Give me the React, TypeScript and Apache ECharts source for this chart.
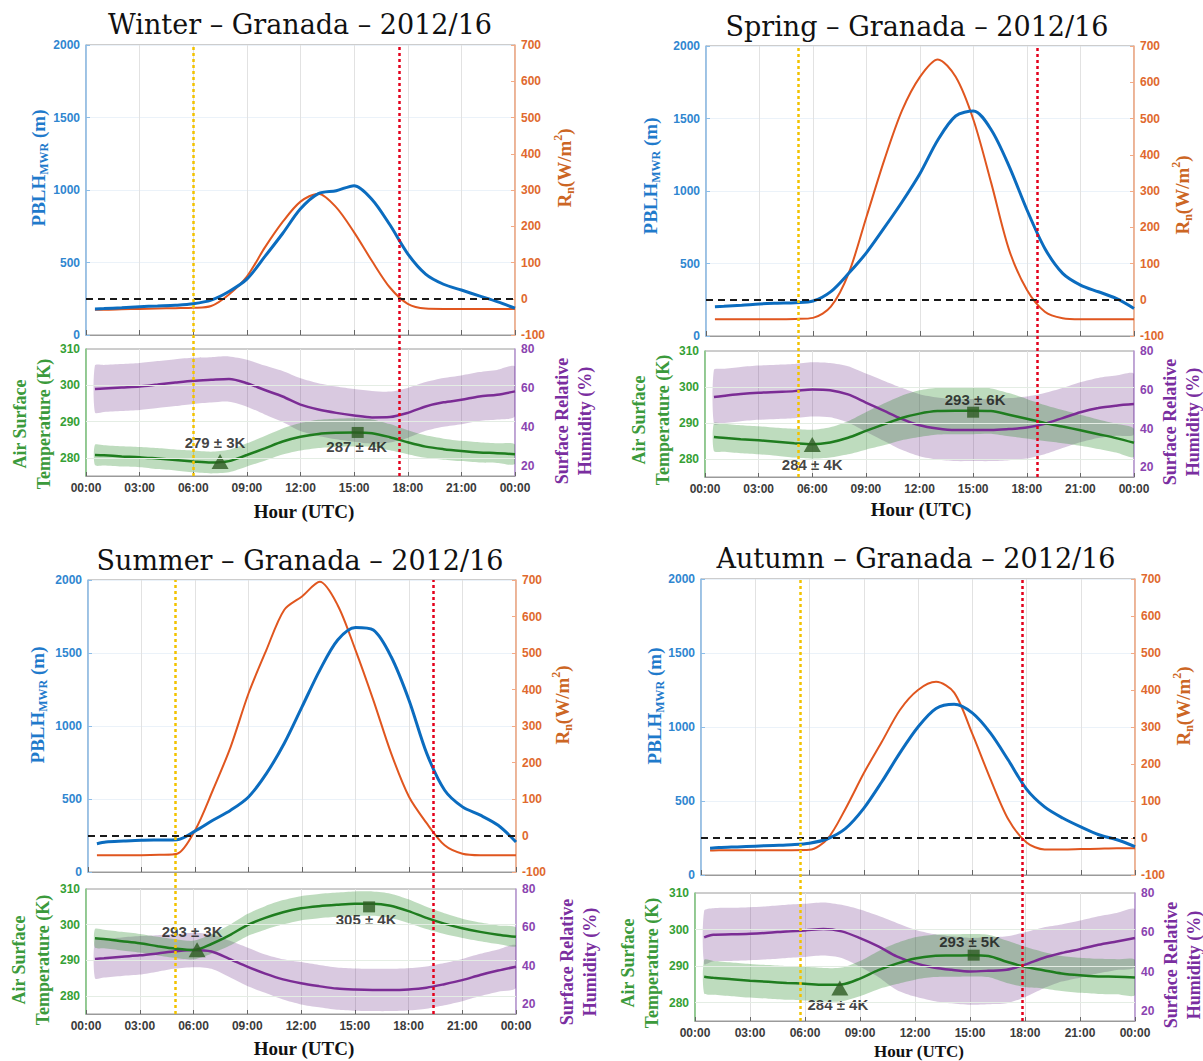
import React, { useEffect, useRef } from "react";
import * as echarts from "echarts";

// Hour of day (UTC) of every averaged sample
const hours = [0.5, 1, 2, 3, 4, 5, 6, 7, 8, 9, 10, 11, 12, 13, 14, 15, 16, 17, 18, 19, 20, 21, 22, 23, 24];

const seasons = ["Winter", "Spring", "Summer", "Autumn"];
const site = "Granada";
const period = "2012/16";

// Winter
const winterPblh = [180, 182, 188, 195, 200, 205, 215, 240, 300, 385, 540, 700, 870, 975, 995, 1030, 935, 760, 560, 420, 350, 310, 270, 230, 185];
const winterRn = [-30, -30, -29, -28, -27, -26, -25, -20, 12, 61, 141, 212, 268, 290, 252, 183, 104, 31, -14, -27, -28, -28, -28, -28, -28];
const winterTemp = [280.8, 280.7, 280.4, 280.2, 279.8, 279.4, 279.0, 278.7, 279.1, 280.8, 282.6, 284.5, 285.8, 286.6, 286.9, 287.0, 286.8, 285.7, 284.3, 283.1, 282.4, 281.9, 281.5, 281.3, 281.0];
const winterTempSd = [2.8, 2.8, 2.8, 2.8, 2.9, 2.9, 3.0, 3.0, 3.1, 3.2, 3.4, 3.6, 3.8, 3.9, 3.9, 3.9, 3.8, 3.6, 3.3, 3.1, 2.9, 2.8, 2.8, 2.7, 2.7];
const winterRh = [59.5, 59.8, 60.3, 60.8, 61.8, 62.8, 63.7, 64.2, 64.6, 62.5, 59.0, 55.7, 51.5, 49.0, 47.3, 46.0, 45.0, 45.2, 47.3, 50.6, 52.7, 54.0, 55.7, 56.6, 58.3];
const winterRhSd = [12, 12, 12, 12, 12, 12, 11.8, 11.6, 11.6, 12, 12.5, 13, 13.5, 13.5, 13.5, 13.5, 13.5, 13, 12.8, 12.5, 12.5, 12.5, 12.5, 12.7, 12.7];

// Spring
const springPblh = [202, 205, 212, 221, 226, 230, 241, 306, 432, 575, 747, 926, 1121, 1352, 1517, 1552, 1421, 1170, 869, 604, 432, 351, 305, 259, 190];
const springRn = [-54, -54, -54, -54, -54, -53, -50, -19, 73, 229, 386, 523, 615, 663, 615, 496, 321, 137, 27, -33, -51, -54, -54, -54, -54];
const springTemp = [286.1, 285.9, 285.5, 285.2, 284.8, 284.4, 284.1, 284.6, 285.9, 287.8, 289.6, 291.4, 292.6, 293.3, 293.4, 293.4, 293.3, 292.3, 291.2, 290.0, 289.0, 288.0, 286.9, 285.8, 284.5];
const springTempSd = [3.9, 3.9, 3.9, 3.9, 3.9, 4.0, 4.0, 4.2, 4.6, 5.2, 5.8, 6.2, 6.5, 6.5, 6.5, 6.5, 6.3, 6.0, 5.5, 5.0, 4.6, 4.3, 4.1, 4.0, 3.9];
const springRh = [56.3, 56.8, 57.8, 58.5, 58.9, 59.3, 60.2, 59.8, 57.6, 53.4, 49.2, 45.0, 41.7, 40.0, 39.2, 39.2, 39.2, 39.7, 40.5, 42.5, 45.4, 48.4, 50.6, 51.8, 52.6];
const springRhSd = [14, 14, 14, 14, 14, 14, 14, 14, 14.5, 15, 15.5, 16, 16, 16, 16, 16, 16, 16, 16, 15.8, 15.5, 15.5, 15.5, 15.5, 15.5];

// Summer
const summerPblh = [194, 206, 212, 217, 219, 221, 280, 354, 423, 514, 674, 880, 1131, 1383, 1589, 1675, 1657, 1474, 1177, 811, 560, 446, 389, 320, 206];
const summerRn = [-54, -54, -54, -54, -53, -50, 14, 124, 243, 389, 508, 618, 655, 695, 631, 508, 371, 225, 106, 33, -27, -50, -54, -54, -54];
const summerTemp = [296.2, 296.0, 295.4, 294.8, 294.0, 293.3, 292.9, 294.6, 297.0, 299.9, 301.9, 303.5, 304.6, 305.2, 305.6, 305.9, 305.9, 305.3, 303.8, 301.9, 300.3, 299.0, 298.0, 297.2, 296.6];
const summerTempSd = [2.6, 2.6, 2.6, 2.6, 2.6, 2.6, 2.6, 2.7, 2.9, 3.1, 3.3, 3.4, 3.4, 3.4, 3.4, 3.4, 3.4, 3.4, 3.3, 3.1, 2.9, 2.7, 2.6, 2.6, 2.6];
const summerRh = [43.6, 44.0, 44.8, 45.5, 46.5, 47.6, 48.3, 47.5, 43.7, 39.6, 36.0, 33.0, 31.0, 29.5, 28.2, 27.7, 27.5, 27.5, 27.8, 28.7, 30.5, 32.6, 35.3, 37.6, 39.6];
const summerRhSd = [10, 10, 10, 10, 9.5, 9, 9, 9, 9.5, 10, 10, 10.5, 11, 11, 11, 11, 11, 11, 11, 11, 11, 11, 11, 11, 11];

// Autumn
const autumnPblh = [180, 185, 190, 195, 200, 205, 215, 245, 315, 450, 630, 825, 1000, 1125, 1153, 1095, 960, 775, 580, 460, 385, 325, 272, 238, 192];
const autumnRn = [-34, -33, -33, -33, -33, -33, -32, -2, 80, 175, 260, 346, 400, 422, 393, 282, 160, 50, -12, -31, -31, -30, -29, -28, -28];
const autumnTemp = [287.1, 286.8, 286.4, 286.0, 285.7, 285.4, 285.2, 284.9, 285.0, 286.6, 288.9, 290.7, 292.1, 292.8, 292.9, 293.0, 292.8, 291.2, 289.8, 288.9, 288.0, 287.5, 287.2, 287.1, 286.9];
const autumnTempSd = [4.6, 4.6, 4.6, 4.6, 4.6, 4.6, 4.6, 4.6, 4.6, 4.8, 5.2, 5.6, 5.8, 5.8, 5.8, 5.8, 5.8, 5.8, 5.5, 5.0, 4.8, 4.8, 4.8, 4.8, 4.8];
const autumnRh = [57.5, 58.8, 59.0, 59.3, 59.8, 60.5, 61.0, 61.7, 60.5, 57.1, 52.9, 47.8, 44.4, 42.2, 41.0, 40.2, 40.5, 41.0, 43.6, 47.0, 49.5, 51.5, 53.7, 55.4, 57.1];
const autumnRhSd = [13.5, 13.5, 13.5, 13.5, 13.5, 13.5, 13.5, 13.5, 13.5, 14.5, 15.5, 17, 17, 17, 17, 17, 17, 17, 16.5, 15.5, 14.5, 14.5, 14.5, 14.5, 14.5];

// Sunrise / sunset hours (UTC)
const sunrise = [6.0, 5.2, 4.9, 5.5];
const sunset = [17.5, 18.6, 19.35, 17.75];

// Daily minimum and maximum air temperature (K) with their standard deviation
const minHour = [7.5, 6.0, 6.2, 7.9];
const minTemp = [279, 284, 293, 284];
const minSd = [3, 4, 3, 4];
const maxHour = [15.2, 15.0, 15.8, 15.2];
const maxTemp = [287, 293, 305, 293];
const maxSd = [4, 6, 4, 5];

const seasonData = [
  { pblh: winterPblh, rn: winterRn, temp: winterTemp, tempSd: winterTempSd, rh: winterRh, rhSd: winterRhSd },
  { pblh: springPblh, rn: springRn, temp: springTemp, tempSd: springTempSd, rh: springRh, rhSd: springRhSd },
  { pblh: summerPblh, rn: summerRn, temp: summerTemp, tempSd: summerTempSd, rh: summerRh, rhSd: summerRhSd },
  { pblh: autumnPblh, rn: autumnRn, temp: autumnTemp, tempSd: autumnTempSd, rh: autumnRh, rhSd: autumnRhSd },
];

type Box = { l: number; t: number; w: number; h: number };
type Layout = {
  top: Box;
  bot: Box;
  title: [number, number];
  pblh: [number, number];
  rn: [number, number];
  tempT: [number, number];
  rhT: [number, number];
  hour: [number, number];
  hourSize: number;
  minOff: [number, number];
  maxOff: [number, number];
};

const layouts: Layout[] = [
  { top: { l: 86, t: 45, w: 429, h: 290 }, bot: { l: 86, t: 349, w: 429, h: 127 }, title: [300, 24], pblh: [38, 168], rn: [564, 168], tempT: [32, 424], rhT: [573, 421], hour: [304, 511], hourSize: 19, minOff: [-5, -19], maxOff: [-1, 14] },
  { top: { l: 706, t: 46, w: 428, h: 290 }, bot: { l: 705, t: 351, w: 429, h: 126 }, title: [917, 26], pblh: [650, 176], rn: [1182, 195], tempT: [651, 420], rhT: [1181, 422], hour: [921, 509], hourSize: 19, minOff: [0, 20], maxOff: [2, -13] },
  { top: { l: 88, t: 580, w: 428, h: 292 }, bot: { l: 86, t: 889, w: 430, h: 125 }, title: [300, 560], pblh: [37, 705], rn: [562, 705], tempT: [31, 960], rhT: [578, 962], hour: [304, 1048], hourSize: 19, minOff: [-5, -18], maxOff: [-3, 13] },
  { top: { l: 701, t: 579, w: 434, h: 296 }, bot: { l: 695, t: 893, w: 440, h: 128 }, title: [916, 558], pblh: [654, 706], rn: [1183, 706], tempT: [640, 963], rhT: [1182, 965], hour: [919, 1051], hourSize: 17, minOff: [-2, 16], maxOff: [-4, -14] },
];

const C = {
  pblh: "#0b6cbf",
  pblhAxis: "#8cbde8",
  pblhText: "#2f86d0",
  pblhTitle: "#1f7acb",
  rn: "#e0561f",
  rnAxis: "#f3aa85",
  rnText: "#e0692e",
  rnTitle: "#cc6624",
  temp: "#1f7d1f",
  tempBand: "rgba(20,130,20,0.28)",
  tempAxis: "#7cc47c",
  tempText: "#35a035",
  rh: "#7b2c95",
  rhBand: "rgba(90,20,120,0.23)",
  rhAxis: "#b996d4",
  rhText: "#8a44b0",
  marker: "#2d5b22",
  frame: "#9a9a9a",
  grid: "#e2e2e2",
};

const SANS = "Liberation Sans";
const SERIF = "Liberation Serif";

const hourLabel = (v: number) => {
  const h = v % 24;
  return (h < 10 ? "0" : "") + h + ":00";
};

function buildOption() {
  const grids: any[] = [];
  const xAxes: any[] = [];
  const yAxes: any[] = [];
  const series: any[] = [];
  const graphics: any[] = [];

  const pairs = (vals: number[]) => hours.map((h, k) => [h, vals[k]]);

  const line = (xi: number, yi: number, vals: number[], color: string, width: number, extra: any = {}) => ({
    type: "line",
    xAxisIndex: xi,
    yAxisIndex: yi,
    data: pairs(vals),
    symbol: "none",
    showSymbol: false,
    smooth: 0.3,
    silent: true,
    lineStyle: { color, width },
    ...extra,
  });

  // Shaded mean ± sd envelope, drawn as one polygon through the axis scales
  const band = (xi: number, yi: number, mean: number[], sd: number[], color: string) => ({
    type: "custom",
    xAxisIndex: xi,
    yAxisIndex: yi,
    silent: true,
    clip: true,
    data: hours.map((h, k) => [h, mean[k] - sd[k], mean[k] + sd[k]]),
    encode: { x: 0, y: [1, 2] },
    renderItem: (params: any, api: any) => {
      if (params.dataIndex !== 0) return null;
      const upper = hours.map((h, k) => api.coord([h, mean[k] + sd[k]]));
      const lower = hours.map((h, k) => api.coord([h, mean[k] - sd[k]])).reverse();
      return {
        type: "polygon",
        shape: { points: upper.concat(lower), smooth: 0.25 },
        style: { fill: color, stroke: "none" },
      };
    },
  });

  const tickLabel = (color: string) => ({
    color, fontFamily: SANS, fontWeight: "bold", fontSize: 12, margin: 6,
    formatter: (v: number) => String(v),
  });

  seasons.forEach((season, i) => {
    const L = layouts[i];
    const d = seasonData[i];

    const gTop = grids.length;
    grids.push({ left: L.top.l, top: L.top.t, width: L.top.w, height: L.top.h, show: true, borderColor: C.frame, borderWidth: 1, containLabel: false, outerBoundsMode: "none" });
    const gBot = grids.length;
    grids.push({ left: L.bot.l, top: L.bot.t, width: L.bot.w, height: L.bot.h, show: true, borderColor: C.frame, borderWidth: 1, containLabel: false, outerBoundsMode: "none" });
    const gOv = grids.length;
    grids.push({ left: L.top.l, top: L.top.t, width: L.top.w, height: L.bot.t + L.bot.h - L.top.t, show: false, containLabel: false, outerBoundsMode: "none" });

    const xTop = xAxes.length;
    xAxes.push({
      gridIndex: gTop, type: "value", min: 0, max: 24, interval: 3,
      axisLine: { show: true, lineStyle: { color: C.frame, width: 1 } },
      axisTick: { show: true, inside: true, length: 5, lineStyle: { color: "#666" } },
      axisLabel: { show: false },
      splitLine: { show: true, lineStyle: { color: C.grid, width: 1 } },
    });
    const xBot = xAxes.length;
    xAxes.push({
      gridIndex: gBot, type: "value", min: 0, max: 24, interval: 3,
      axisLine: { show: true, lineStyle: { color: C.frame, width: 1 } },
      axisTick: { show: true, inside: true, length: 4, lineStyle: { color: "#666" } },
      axisLabel: { show: true, formatter: hourLabel, color: "#3b3b3b", fontFamily: SANS, fontWeight: "bold", fontSize: 12, margin: 6 },
      splitLine: { show: true, lineStyle: { color: C.grid, width: 1 } },
    });
    const xOv = xAxes.length;
    xAxes.push({ gridIndex: gOv, type: "value", min: 0, max: 24, show: false });

    const yP = yAxes.length;
    yAxes.push({
      gridIndex: gTop, type: "value", position: "left", min: 0, max: 2000, interval: 500,
      axisLine: { show: true, lineStyle: { color: C.pblhAxis, width: 1.5 } },
      axisTick: { show: true, inside: true, length: 4, lineStyle: { color: C.pblhAxis } },
      axisLabel: tickLabel(C.pblhText),
      splitLine: { show: true, lineStyle: { color: "#ebf2f9", width: 1 } },
    });
    const yR = yAxes.length;
    yAxes.push({
      gridIndex: gTop, type: "value", position: "right", min: -100, max: 700, interval: 100,
      axisLine: { show: true, lineStyle: { color: C.rnAxis, width: 1.5 } },
      axisTick: { show: true, inside: true, length: 4, lineStyle: { color: C.rnAxis } },
      axisLabel: tickLabel(C.rnText),
      splitLine: { show: false },
    });
    const yT = yAxes.length;
    yAxes.push({
      gridIndex: gBot, type: "value", position: "left", min: 275, max: 310, interval: 5,
      axisLine: { show: true, lineStyle: { color: C.tempAxis, width: 1.5 } },
      axisTick: { show: false },
      axisLabel: { ...tickLabel(C.tempText), formatter: (v: number) => (v % 10 === 0 ? String(v) : "") },
      splitLine: { show: false },
    });
    const yH = yAxes.length;
    yAxes.push({
      gridIndex: gBot, type: "value", position: "right", min: 15, max: 80, interval: 5,
      axisLine: { show: true, lineStyle: { color: C.rhAxis, width: 1.5 } },
      axisTick: { show: false },
      axisLabel: { ...tickLabel(C.rhText), formatter: (v: number) => (v % 20 === 0 ? String(v) : "") },
      splitLine: { show: false },
    });
    const yOv = yAxes.length;
    yAxes.push({ gridIndex: gOv, type: "value", min: 0, max: 1, show: false });

    // Upper panel: net radiation and boundary-layer height
    series.push(
      line(xTop, yR, d.rn, C.rn, 2, {
        markLine: {
          silent: true, symbol: "none", label: { show: false },
          lineStyle: { color: "#1a1a1a", width: 2, type: [7, 5] },
          data: [{ yAxis: 0 }],
        },
      })
    );
    series.push(line(xTop, yP, d.pblh, C.pblh, 3));

    // Lower panel: humidity and temperature envelopes (mean ± sd) and means
    series.push(band(xBot, yH, d.rh, d.rhSd, C.rhBand));
    series.push(band(xBot, yT, d.temp, d.tempSd, C.tempBand));
    series.push(line(xBot, yH, d.rh, C.rh, 2.5));
    series.push(
      line(xBot, yT, d.temp, C.temp, 2.5, {
        markLine: {
          silent: true, symbol: "none", label: { show: false },
          lineStyle: { color: "#e4ede4", width: 1, type: "solid" },
          data: [{ yAxis: 280 }, { yAxis: 290 }, { yAxis: 300 }],
        },
      })
    );

    const markLabel = { show: true, position: "inside", color: "#111", fontFamily: SANS, fontWeight: "bold", fontSize: 15 };
    series.push({
      type: "scatter", xAxisIndex: xBot, yAxisIndex: yT, silent: true, z: 4,
      data: [[minHour[i], minTemp[i]]],
      symbol: "triangle", symbolSize: [17, 15],
      itemStyle: { color: C.marker },
      label: { ...markLabel, offset: L.minOff, formatter: `${minTemp[i]} ± ${minSd[i]}K` },
    });
    series.push({
      type: "scatter", xAxisIndex: xBot, yAxisIndex: yT, silent: true, z: 4,
      data: [[maxHour[i], maxTemp[i]]],
      symbol: "rect", symbolSize: [12, 11],
      itemStyle: { color: C.marker },
      label: { ...markLabel, offset: L.maxOff, formatter: `${maxTemp[i]} ± ${maxSd[i]}K` },
    });

    // Sunrise and sunset across both panels
    series.push({
      type: "line", xAxisIndex: xOv, yAxisIndex: yOv, silent: true, z: 5,
      data: [[0, 0], [24, 0]], symbol: "none", lineStyle: { opacity: 0, width: 0 },
      markLine: {
        silent: true, symbol: "none", label: { show: false },
        data: [
          { xAxis: sunrise[i], lineStyle: { color: "#f2c200", width: 2.5, type: [3, 3] } },
          { xAxis: sunset[i], lineStyle: { color: "#e3001b", width: 2.5, type: [3, 3] } },
        ],
      },
    });

    // Titles
    graphics.push({
      type: "text", x: L.title[0], y: L.title[1],
      style: { text: `${season} – ${site} – ${period}`, fontFamily: "DejaVu Serif", fontSize: 27, fill: "#111", align: "center", verticalAlign: "middle" },
    });
    const rb = (fill: string) => ({ fontFamily: SERIF, fontWeight: "bold", fontSize: 19, lineHeight: 24, fill, verticalAlign: "middle" });
    const rs = (fill: string) => ({ fontFamily: SERIF, fontWeight: "bold", fontSize: 12, lineHeight: 12, fill, verticalAlign: "bottom" });
    const rp = (fill: string) => ({ fontFamily: SERIF, fontWeight: "bold", fontSize: 12, lineHeight: 12, fill, verticalAlign: "top" });
    graphics.push({
      type: "text", x: L.pblh[0], y: L.pblh[1], rotation: Math.PI / 2,
      style: {
        text: "{b|PBLH}{s|MWR}{b| (m)}", align: "center", verticalAlign: "middle",
        rich: { b: rb(C.pblhTitle), s: rs(C.pblhTitle) },
      },
    });
    graphics.push({
      type: "text", x: L.rn[0], y: L.rn[1], rotation: Math.PI / 2,
      style: {
        text: "{b|R}{s|n}{b|(W/m}{p|2}{b|)}", align: "center", verticalAlign: "middle",
        rich: { b: rb(C.rnTitle), s: rs(C.rnTitle), p: rp(C.rnTitle) },
      },
    });
    graphics.push({
      type: "text", x: L.tempT[0], y: L.tempT[1], rotation: Math.PI / 2,
      style: { text: "Air Surface\nTemperature (K)", fontFamily: SERIF, fontWeight: "bold", fontSize: 18, lineHeight: 24, fill: "#3b9a3b", align: "center", verticalAlign: "middle" },
    });
    graphics.push({
      type: "text", x: L.rhT[0], y: L.rhT[1], rotation: Math.PI / 2,
      style: { text: "Surface Relative\nHumidity (%)", fontFamily: SERIF, fontWeight: "bold", fontSize: 18, lineHeight: 23, fill: "#7a2ea0", align: "center", verticalAlign: "middle" },
    });
    graphics.push({
      type: "text", x: L.hour[0], y: L.hour[1],
      style: { text: "Hour (UTC)", fontFamily: SERIF, fontWeight: "bold", fontSize: L.hourSize, fill: "#111", align: "center", verticalAlign: "middle" },
    });
  });

  return {
    animation: false,
    backgroundColor: "#ffffff",
    grid: grids,
    xAxis: xAxes,
    yAxis: yAxes,
    series,
    graphic: { elements: graphics },
  };
}

export default function App() {
  const ref = useRef<HTMLDivElement>(null);
  useEffect(() => {
    if (!ref.current) return;
    const chart = echarts.init(ref.current, undefined, { renderer: "svg" });
    chart.setOption(buildOption() as any);
    return () => chart.dispose();
  }, []);
  return (
    <div
      ref={ref}
      style={{ position: "absolute", left: 0, top: 0, width: 1203, height: 1061, background: "#fff" }}
    />
  );
}
